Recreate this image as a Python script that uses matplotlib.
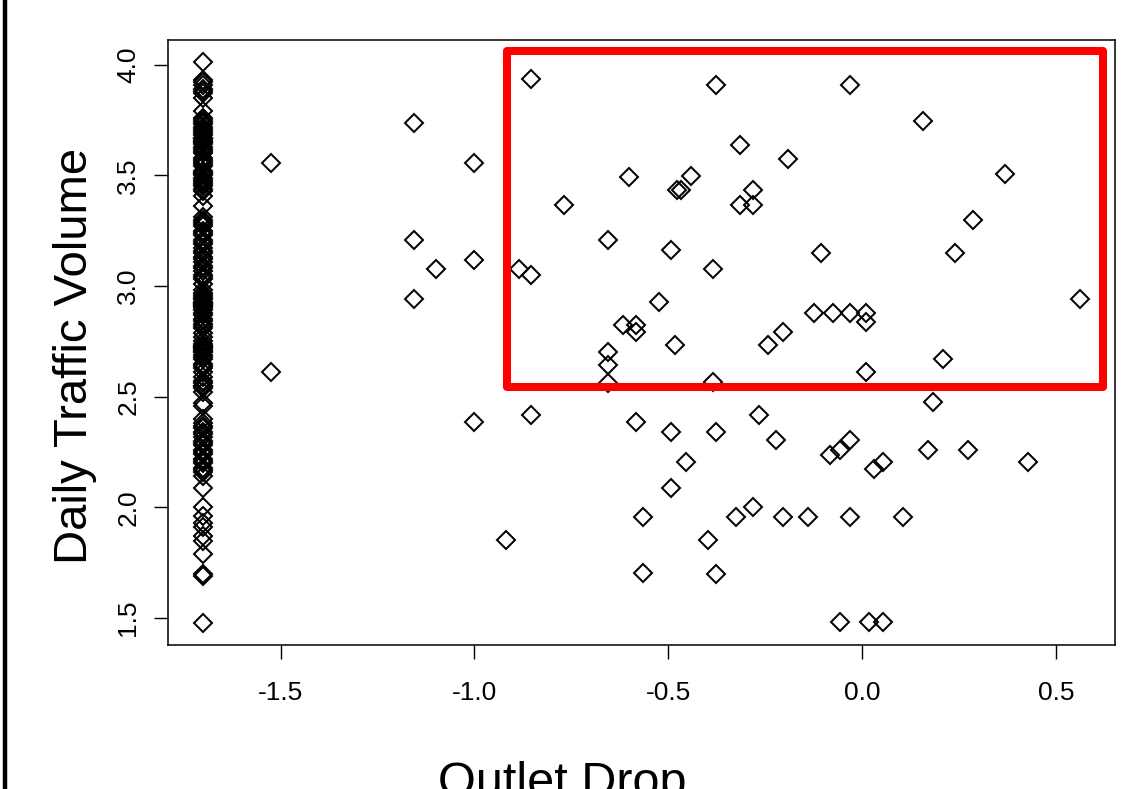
import numpy as np
import matplotlib
matplotlib.use("Agg")
import matplotlib.pyplot as plt
from matplotlib.patches import Rectangle
from matplotlib.lines import Line2D

# stations with no drop sit in one column on the left
column_x = -1.70
column_y = [4.01, 3.93, 3.92, 3.91, 3.89, 3.88, 3.87, 3.85, 3.79, 3.76, 3.75,
            3.74, 3.73, 3.72, 3.71, 3.70, 3.69, 3.68, 3.67, 3.67, 3.66, 3.65,
            3.65, 3.64, 3.63, 3.62, 3.61, 3.60, 3.58, 3.57, 3.56, 3.55, 3.54,
            3.52, 3.51, 3.51, 3.50, 3.49, 3.48, 3.47, 3.46, 3.45, 3.44, 3.43,
            3.405, 3.36, 3.31, 3.30, 3.29, 3.28, 3.27, 3.25, 3.24, 3.23, 3.21,
            3.20, 3.19, 3.17, 3.16, 3.15, 3.13, 3.12, 3.11, 3.09, 3.08, 3.07,
            3.05, 3.04, 3.03, 3.01, 2.98, 2.97, 2.96, 2.95, 2.94, 2.94, 2.93,
            2.93, 2.92, 2.92, 2.91, 2.91, 2.90, 2.89, 2.88, 2.87, 2.85, 2.84,
            2.83, 2.82, 2.81, 2.79, 2.77, 2.75, 2.74, 2.73, 2.73, 2.72, 2.72,
            2.71, 2.70, 2.70, 2.69, 2.68, 2.67, 2.65, 2.64, 2.63, 2.61, 2.59,
            2.57, 2.56, 2.55, 2.55, 2.54, 2.52, 2.47, 2.46, 2.40, 2.38, 2.37,
            2.36, 2.34, 2.33, 2.32, 2.30, 2.29, 2.28, 2.26, 2.25, 2.24, 2.22,
            2.21, 2.20, 2.18, 2.17, 2.16, 2.14, 2.09, 2.00, 1.96, 1.93, 1.91,
            1.87, 1.85, 1.79, 1.70, 1.69, 1.48]

# the rest of the stations
drop_x = [-1.526, -1.526, -1.156, -1.156, -1.156, -1.098, -1.000, -1.000,
          -1.000, -0.919, -0.884, -0.854, -0.854, -0.854, -0.768, -0.656,
          -0.601, -0.492, -0.477, -0.523, -0.618, -0.583, -0.583, -0.656,
          -0.656, -0.656, -0.482, -0.583, -0.492, -0.492, -0.566, -0.566,
          -0.377, -0.032, 0.156, -0.316, -0.192, 0.368, -0.441, -0.467,
          -0.282, -0.316, -0.282, 0.286, -0.105, 0.239, -0.385, 0.562,
          -0.123, -0.075, -0.032, 0.011, 0.011, -0.205, -0.243, 0.209,
          0.011, -0.385, 0.183, -0.265, -0.377, -0.222, -0.032, -0.058,
          -0.084, -0.454, 0.054, 0.032, 0.170, 0.273, 0.428, -0.282,
          -0.325, -0.205, -0.140, -0.032, 0.105, -0.398, -0.377, -0.058,
          0.019, 0.054]
drop_y = [3.557, 2.612, 3.735, 3.207, 2.943, 3.079, 3.556, 3.118,
          2.385, 1.851, 3.079, 3.049, 3.935, 2.418, 3.364, 3.207,
          3.494, 3.162, 3.435, 2.929, 2.823, 2.823, 2.793, 2.703,
          2.642, 2.561, 2.733, 2.385, 2.342, 2.086, 1.958, 1.702,
          3.910, 3.910, 3.744, 3.635, 3.576, 3.507, 3.495, 3.435,
          3.435, 3.364, 3.364, 3.299, 3.149, 3.149, 3.078, 2.943,
          2.876, 2.876, 2.876, 2.876, 2.838, 2.793, 2.733, 2.672,
          2.610, 2.567, 2.475, 2.418, 2.342, 2.305, 2.305, 2.259,
          2.237, 2.207, 2.207, 2.174, 2.258, 2.258, 2.204, 2.003,
          1.958, 1.958, 1.958, 1.958, 1.958, 1.851, 1.700, 1.482,
          1.482, 1.482]

x_ticks = [-1.5, -1.0, -0.5, 0.0, 0.5]
x_tick_labels = ["-1.5", "-1.0", "-0.5", "0.0", "0.5"]
y_ticks = [1.5, 2.0, 2.5, 3.0, 3.5, 4.0]
y_tick_labels = ["1.5", "2.0", "2.5", "3.0", "3.5", "4.0"]

# highlighted region (x0, x1, y0, y1)
box_x = (-0.916, 0.621)
box_y = (2.544, 4.063)

FONT = ["Liberation Sans", "DejaVu Sans"]


def padded(lo, hi, frac=0.04):
    d = (hi - lo) * frac
    return lo - d, hi + d


def main():
    plt.rcParams["font.family"] = FONT
    plt.rcParams["axes.unicode_minus"] = False

    fig = plt.figure(figsize=(11.35, 7.89), dpi=100)
    ax = fig.add_axes([168 / 1135, 1 - 645 / 789, 947 / 1135, 605 / 789])

    xs = np.concatenate([np.full(len(column_y), column_x), drop_x])
    ys = np.concatenate([column_y, drop_y])
    ax.plot(xs, ys, linestyle="none", marker="D", markersize=9.2,
            markerfacecolor="none", markeredgecolor="black",
            markeredgewidth=1.45)

    ax.set_xlim(*padded(xs.min(), xs.max()))
    ax.set_ylim(*padded(ys.min(), ys.max()))

    rect = Rectangle((box_x[0], box_y[0]), box_x[1] - box_x[0],
                     box_y[1] - box_y[0], fill=False, edgecolor="#ff0000",
                     linewidth=5.8, joinstyle="round", zorder=3)
    ax.add_patch(rect)

    ax.set_xticks(x_ticks)
    ax.set_xticklabels(x_tick_labels, fontsize=19)
    ax.set_yticks(y_ticks)
    ax.set_yticklabels(y_tick_labels, fontsize=19, rotation=90, va="center")
    ax.tick_params(axis="x", length=10, width=1.0, pad=16)
    ax.tick_params(axis="y", length=10, width=1.0, pad=10)
    for s in ax.spines.values():
        s.set_linewidth(1.1)

    fig.text(75 / 1135, 1 - 356 / 789, "Daily Traffic Volume", fontsize=34,
             rotation=90, ha="center", va="center")
    fig.text(562 / 1135, 1 - 784 / 789, "Outlet Drop", fontsize=35,
             ha="center", va="center")

    # thick black edge on the far left
    fig.add_artist(Line2D([5 / 1135, 5 / 1135], [0, 1], color="black",
                          linewidth=3.2, transform=fig.transFigure))

    fig.savefig("out.png", dpi=100)


if __name__ == "__main__":
    main()
